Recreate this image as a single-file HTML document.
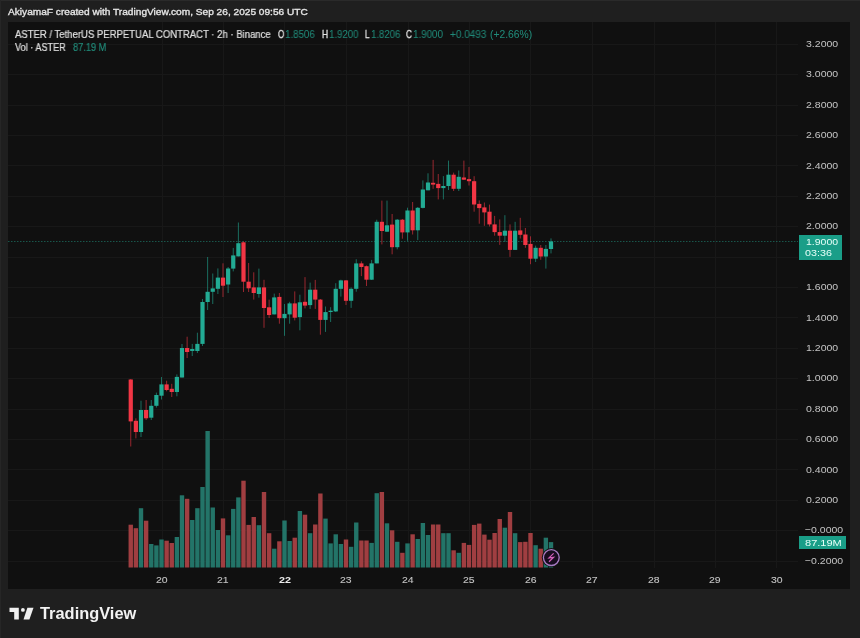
<!DOCTYPE html>
<html><head><meta charset="utf-8"><style>
html,body{margin:0;padding:0;}
body{width:860px;height:638px;background:#1f1f1f;position:relative;overflow:hidden;font-family:"Liberation Sans",sans-serif;}
.panel{position:absolute;left:8px;top:22px;width:842.2px;height:567.2px;background:#101010;}
svg{position:absolute;left:0;top:0;}
</style></head><body>
<div class="panel"></div>
<div style="position:absolute;left:0;top:0;width:860px;height:1px;background:#2a2a2a"></div>
<div style="position:absolute;left:0;top:0;width:1px;height:638px;background:#262626"></div>
<svg width="860" height="638" viewBox="0 0 860 638">
<line x1="8" y1="561.5" x2="798" y2="561.5" stroke="#181818" stroke-width="1"/>
<line x1="8" y1="530.5" x2="798" y2="530.5" stroke="#181818" stroke-width="1"/>
<line x1="8" y1="500.5" x2="798" y2="500.5" stroke="#181818" stroke-width="1"/>
<line x1="8" y1="469.5" x2="798" y2="469.5" stroke="#181818" stroke-width="1"/>
<line x1="8" y1="439.5" x2="798" y2="439.5" stroke="#181818" stroke-width="1"/>
<line x1="8" y1="409.5" x2="798" y2="409.5" stroke="#181818" stroke-width="1"/>
<line x1="8" y1="378.5" x2="798" y2="378.5" stroke="#181818" stroke-width="1"/>
<line x1="8" y1="348.5" x2="798" y2="348.5" stroke="#181818" stroke-width="1"/>
<line x1="8" y1="317.5" x2="798" y2="317.5" stroke="#181818" stroke-width="1"/>
<line x1="8" y1="287.5" x2="798" y2="287.5" stroke="#181818" stroke-width="1"/>
<line x1="8" y1="257.5" x2="798" y2="257.5" stroke="#181818" stroke-width="1"/>
<line x1="8" y1="226.5" x2="798" y2="226.5" stroke="#181818" stroke-width="1"/>
<line x1="8" y1="196.5" x2="798" y2="196.5" stroke="#181818" stroke-width="1"/>
<line x1="8" y1="165.5" x2="798" y2="165.5" stroke="#181818" stroke-width="1"/>
<line x1="8" y1="135.5" x2="798" y2="135.5" stroke="#181818" stroke-width="1"/>
<line x1="8" y1="105.5" x2="798" y2="105.5" stroke="#181818" stroke-width="1"/>
<line x1="8" y1="74.5" x2="798" y2="74.5" stroke="#181818" stroke-width="1"/>
<line x1="8" y1="44.5" x2="798" y2="44.5" stroke="#181818" stroke-width="1"/>
<line x1="162.5" y1="22" x2="162.5" y2="568" stroke="#181818" stroke-width="1"/>
<line x1="223.5" y1="22" x2="223.5" y2="568" stroke="#181818" stroke-width="1"/>
<line x1="284.5" y1="22" x2="284.5" y2="568" stroke="#181818" stroke-width="1"/>
<line x1="346.5" y1="22" x2="346.5" y2="568" stroke="#181818" stroke-width="1"/>
<line x1="408.5" y1="22" x2="408.5" y2="568" stroke="#181818" stroke-width="1"/>
<line x1="469.5" y1="22" x2="469.5" y2="568" stroke="#181818" stroke-width="1"/>
<line x1="530.5" y1="22" x2="530.5" y2="568" stroke="#181818" stroke-width="1"/>
<line x1="592.5" y1="22" x2="592.5" y2="568" stroke="#181818" stroke-width="1"/>
<line x1="654.5" y1="22" x2="654.5" y2="568" stroke="#181818" stroke-width="1"/>
<line x1="715.5" y1="22" x2="715.5" y2="568" stroke="#181818" stroke-width="1"/>
<line x1="776.5" y1="22" x2="776.5" y2="568" stroke="#181818" stroke-width="1"/>
<line x1="8" y1="241.5" x2="798" y2="241.5" stroke="#22ab94" stroke-width="1" stroke-dasharray="1.5 1.5" opacity="0.45"/>
<rect x="128.55" y="524.7" width="4.4" height="42.8" fill="#a03e41"/>
<rect x="133.68" y="528.2" width="4.4" height="39.3" fill="#a03e41"/>
<rect x="138.80" y="508.2" width="4.4" height="59.3" fill="#237468"/>
<rect x="143.93" y="520.7" width="4.4" height="46.8" fill="#a03e41"/>
<rect x="149.05" y="544.0" width="4.4" height="23.5" fill="#237468"/>
<rect x="154.18" y="545.4" width="4.4" height="22.1" fill="#237468"/>
<rect x="159.30" y="539.5" width="4.4" height="28.0" fill="#237468"/>
<rect x="164.43" y="540.7" width="4.4" height="26.8" fill="#a03e41"/>
<rect x="169.55" y="543.0" width="4.4" height="24.5" fill="#a03e41"/>
<rect x="174.68" y="537.0" width="4.4" height="30.5" fill="#237468"/>
<rect x="179.80" y="495.3" width="4.4" height="72.2" fill="#237468"/>
<rect x="184.93" y="498.8" width="4.4" height="68.7" fill="#a03e41"/>
<rect x="190.05" y="520.0" width="4.4" height="47.5" fill="#237468"/>
<rect x="195.18" y="508.2" width="4.4" height="59.3" fill="#237468"/>
<rect x="200.30" y="487.0" width="4.4" height="80.5" fill="#237468"/>
<rect x="205.43" y="431.0" width="4.4" height="136.5" fill="#237468"/>
<rect x="210.55" y="507.5" width="4.4" height="60.0" fill="#237468"/>
<rect x="215.68" y="530.0" width="4.4" height="37.5" fill="#237468"/>
<rect x="220.80" y="518.4" width="4.4" height="49.1" fill="#a03e41"/>
<rect x="225.93" y="535.3" width="4.4" height="32.2" fill="#237468"/>
<rect x="231.05" y="508.9" width="4.4" height="58.6" fill="#237468"/>
<rect x="236.18" y="497.4" width="4.4" height="70.1" fill="#237468"/>
<rect x="241.30" y="480.7" width="4.4" height="86.8" fill="#a03e41"/>
<rect x="246.43" y="524.9" width="4.4" height="42.6" fill="#a03e41"/>
<rect x="251.55" y="517.0" width="4.4" height="50.5" fill="#a03e41"/>
<rect x="256.68" y="525.2" width="4.4" height="42.3" fill="#237468"/>
<rect x="261.80" y="492.0" width="4.4" height="75.5" fill="#a03e41"/>
<rect x="266.93" y="533.2" width="4.4" height="34.3" fill="#a03e41"/>
<rect x="272.05" y="548.7" width="4.4" height="18.8" fill="#237468"/>
<rect x="277.18" y="541.3" width="4.4" height="26.2" fill="#a03e41"/>
<rect x="282.30" y="520.5" width="4.4" height="47.0" fill="#237468"/>
<rect x="287.43" y="541.0" width="4.4" height="26.5" fill="#237468"/>
<rect x="292.55" y="537.7" width="4.4" height="29.8" fill="#a03e41"/>
<rect x="297.68" y="511.0" width="4.4" height="56.5" fill="#237468"/>
<rect x="302.80" y="514.7" width="4.4" height="52.8" fill="#a03e41"/>
<rect x="307.93" y="533.2" width="4.4" height="34.3" fill="#237468"/>
<rect x="313.05" y="524.5" width="4.4" height="43.0" fill="#a03e41"/>
<rect x="318.18" y="493.5" width="4.4" height="74.0" fill="#a03e41"/>
<rect x="323.30" y="518.6" width="4.4" height="48.9" fill="#237468"/>
<rect x="328.43" y="543.4" width="4.4" height="24.1" fill="#237468"/>
<rect x="333.55" y="534.3" width="4.4" height="33.2" fill="#237468"/>
<rect x="338.68" y="544.0" width="4.4" height="23.5" fill="#237468"/>
<rect x="343.80" y="539.5" width="4.4" height="28.0" fill="#a03e41"/>
<rect x="348.93" y="546.8" width="4.4" height="20.7" fill="#237468"/>
<rect x="354.05" y="522.5" width="4.4" height="45.0" fill="#237468"/>
<rect x="359.18" y="540.5" width="4.4" height="27.0" fill="#a03e41"/>
<rect x="364.30" y="540.5" width="4.4" height="27.0" fill="#a03e41"/>
<rect x="369.43" y="542.9" width="4.4" height="24.6" fill="#237468"/>
<rect x="374.55" y="493.2" width="4.4" height="74.3" fill="#237468"/>
<rect x="379.68" y="492.0" width="4.4" height="75.5" fill="#a03e41"/>
<rect x="384.80" y="523.3" width="4.4" height="44.2" fill="#237468"/>
<rect x="389.93" y="530.3" width="4.4" height="37.2" fill="#a03e41"/>
<rect x="395.05" y="541.8" width="4.4" height="25.7" fill="#237468"/>
<rect x="400.18" y="552.8" width="4.4" height="14.7" fill="#a03e41"/>
<rect x="405.30" y="543.4" width="4.4" height="24.1" fill="#237468"/>
<rect x="410.43" y="534.3" width="4.4" height="33.2" fill="#a03e41"/>
<rect x="415.55" y="539.0" width="4.4" height="28.5" fill="#237468"/>
<rect x="420.68" y="523.0" width="4.4" height="44.5" fill="#237468"/>
<rect x="425.80" y="535.0" width="4.4" height="32.5" fill="#237468"/>
<rect x="430.93" y="524.5" width="4.4" height="43.0" fill="#a03e41"/>
<rect x="436.05" y="524.5" width="4.4" height="43.0" fill="#a03e41"/>
<rect x="441.18" y="533.2" width="4.4" height="34.3" fill="#237468"/>
<rect x="446.30" y="533.2" width="4.4" height="34.3" fill="#237468"/>
<rect x="451.43" y="550.3" width="4.4" height="17.2" fill="#a03e41"/>
<rect x="456.55" y="552.8" width="4.4" height="14.7" fill="#237468"/>
<rect x="461.68" y="542.9" width="4.4" height="24.6" fill="#a03e41"/>
<rect x="466.80" y="544.9" width="4.4" height="22.6" fill="#a03e41"/>
<rect x="471.93" y="524.9" width="4.4" height="42.6" fill="#a03e41"/>
<rect x="477.05" y="523.6" width="4.4" height="43.9" fill="#a03e41"/>
<rect x="482.18" y="534.6" width="4.4" height="32.9" fill="#a03e41"/>
<rect x="487.30" y="539.7" width="4.4" height="27.8" fill="#a03e41"/>
<rect x="492.43" y="533.0" width="4.4" height="34.5" fill="#a03e41"/>
<rect x="497.55" y="519.0" width="4.4" height="48.5" fill="#a03e41"/>
<rect x="502.68" y="527.7" width="4.4" height="39.8" fill="#237468"/>
<rect x="507.80" y="512.0" width="4.4" height="55.5" fill="#a03e41"/>
<rect x="512.92" y="533.2" width="4.4" height="34.3" fill="#237468"/>
<rect x="518.05" y="542.1" width="4.4" height="25.4" fill="#a03e41"/>
<rect x="523.17" y="541.8" width="4.4" height="25.7" fill="#a03e41"/>
<rect x="528.30" y="533.0" width="4.4" height="34.5" fill="#a03e41"/>
<rect x="533.42" y="545.2" width="4.4" height="22.3" fill="#237468"/>
<rect x="538.55" y="548.7" width="4.4" height="18.8" fill="#a03e41"/>
<rect x="543.67" y="537.7" width="4.4" height="29.8" fill="#237468"/>
<rect x="548.80" y="542.1" width="4.4" height="25.4" fill="#237468"/>
<rect x="130.25" y="379.0" width="1" height="67.5" fill="#f23645" opacity="0.6"/>
<rect x="128.65" y="379.5" width="4.2" height="41.9" fill="#f23645"/>
<rect x="135.38" y="418.3" width="1" height="20.1" fill="#f23645" opacity="0.6"/>
<rect x="133.78" y="420.8" width="4.2" height="11.2" fill="#f23645"/>
<rect x="140.50" y="400.7" width="1" height="36.3" fill="#22ab94" opacity="0.6"/>
<rect x="138.90" y="410.0" width="4.2" height="22.0" fill="#22ab94"/>
<rect x="145.62" y="400.0" width="1" height="20.0" fill="#f23645" opacity="0.6"/>
<rect x="144.03" y="410.0" width="4.2" height="8.3" fill="#f23645"/>
<rect x="150.75" y="400.0" width="1" height="20.0" fill="#22ab94" opacity="0.6"/>
<rect x="149.15" y="405.8" width="4.2" height="11.9" fill="#22ab94"/>
<rect x="155.88" y="392.6" width="1" height="15.0" fill="#22ab94" opacity="0.6"/>
<rect x="154.28" y="395.0" width="4.2" height="10.8" fill="#22ab94"/>
<rect x="161.00" y="377.0" width="1" height="22.5" fill="#22ab94" opacity="0.6"/>
<rect x="159.40" y="384.4" width="4.2" height="11.3" fill="#22ab94"/>
<rect x="166.12" y="380.7" width="1" height="10.6" fill="#f23645" opacity="0.6"/>
<rect x="164.53" y="384.4" width="4.2" height="5.6" fill="#f23645"/>
<rect x="171.25" y="383.8" width="1" height="13.2" fill="#f23645" opacity="0.6"/>
<rect x="169.65" y="388.8" width="4.2" height="3.2" fill="#f23645"/>
<rect x="176.38" y="374.4" width="1" height="21.9" fill="#22ab94" opacity="0.6"/>
<rect x="174.78" y="376.9" width="4.2" height="15.1" fill="#22ab94"/>
<rect x="181.50" y="344.0" width="1" height="33.5" fill="#22ab94" opacity="0.6"/>
<rect x="179.90" y="348.0" width="4.2" height="29.5" fill="#22ab94"/>
<rect x="186.62" y="336.7" width="1" height="21.3" fill="#f23645" opacity="0.6"/>
<rect x="185.03" y="348.0" width="4.2" height="4.0" fill="#f23645"/>
<rect x="191.75" y="343.9" width="1" height="12.1" fill="#22ab94" opacity="0.6"/>
<rect x="190.15" y="349.0" width="4.2" height="2.0" fill="#22ab94"/>
<rect x="196.88" y="332.7" width="1" height="20.3" fill="#22ab94" opacity="0.6"/>
<rect x="195.28" y="343.9" width="4.2" height="7.1" fill="#22ab94"/>
<rect x="202.00" y="299.0" width="1" height="47.0" fill="#22ab94" opacity="0.6"/>
<rect x="200.40" y="302.0" width="4.2" height="41.9" fill="#22ab94"/>
<rect x="207.12" y="257.0" width="1" height="53.0" fill="#22ab94" opacity="0.6"/>
<rect x="205.53" y="291.8" width="4.2" height="10.2" fill="#22ab94"/>
<rect x="212.25" y="273.5" width="1" height="30.5" fill="#22ab94" opacity="0.6"/>
<rect x="210.65" y="288.4" width="4.2" height="3.4" fill="#22ab94"/>
<rect x="217.38" y="268.4" width="1" height="25.6" fill="#22ab94" opacity="0.6"/>
<rect x="215.78" y="277.6" width="4.2" height="11.2" fill="#22ab94"/>
<rect x="222.50" y="263.3" width="1" height="33.7" fill="#f23645" opacity="0.6"/>
<rect x="220.90" y="277.6" width="4.2" height="8.1" fill="#f23645"/>
<rect x="227.62" y="267.0" width="1" height="26.0" fill="#22ab94" opacity="0.6"/>
<rect x="226.03" y="268.5" width="4.2" height="16.0" fill="#22ab94"/>
<rect x="232.75" y="247.9" width="1" height="23.5" fill="#22ab94" opacity="0.6"/>
<rect x="231.15" y="255.4" width="4.2" height="13.2" fill="#22ab94"/>
<rect x="237.88" y="222.5" width="1" height="33.9" fill="#22ab94" opacity="0.6"/>
<rect x="236.28" y="243.2" width="4.2" height="13.2" fill="#22ab94"/>
<rect x="243.00" y="241.3" width="1" height="50.7" fill="#f23645" opacity="0.6"/>
<rect x="241.40" y="242.3" width="4.2" height="39.4" fill="#f23645"/>
<rect x="248.12" y="263.0" width="1" height="29.0" fill="#f23645" opacity="0.6"/>
<rect x="246.53" y="281.7" width="4.2" height="6.6" fill="#f23645"/>
<rect x="253.25" y="272.3" width="1" height="27.3" fill="#f23645" opacity="0.6"/>
<rect x="251.65" y="287.4" width="4.2" height="5.6" fill="#f23645"/>
<rect x="258.38" y="268.6" width="1" height="29.1" fill="#22ab94" opacity="0.6"/>
<rect x="256.77" y="287.4" width="4.2" height="6.6" fill="#22ab94"/>
<rect x="263.50" y="279.8" width="1" height="48.0" fill="#f23645" opacity="0.6"/>
<rect x="261.90" y="287.4" width="4.2" height="20.6" fill="#f23645"/>
<rect x="268.62" y="299.6" width="1" height="18.4" fill="#f23645" opacity="0.6"/>
<rect x="267.02" y="307.3" width="4.2" height="7.7" fill="#f23645"/>
<rect x="273.75" y="293.6" width="1" height="20.8" fill="#22ab94" opacity="0.6"/>
<rect x="272.15" y="297.4" width="4.2" height="17.0" fill="#22ab94"/>
<rect x="278.88" y="293.0" width="1" height="30.7" fill="#f23645" opacity="0.6"/>
<rect x="277.27" y="296.9" width="4.2" height="21.3" fill="#f23645"/>
<rect x="284.00" y="304.0" width="1" height="31.8" fill="#22ab94" opacity="0.6"/>
<rect x="282.40" y="313.9" width="4.2" height="4.3" fill="#22ab94"/>
<rect x="289.12" y="301.8" width="1" height="21.9" fill="#22ab94" opacity="0.6"/>
<rect x="287.52" y="303.4" width="4.2" height="11.0" fill="#22ab94"/>
<rect x="294.25" y="291.4" width="1" height="29.0" fill="#f23645" opacity="0.6"/>
<rect x="292.65" y="303.4" width="4.2" height="14.3" fill="#f23645"/>
<rect x="299.38" y="294.7" width="1" height="35.6" fill="#22ab94" opacity="0.6"/>
<rect x="297.77" y="302.3" width="4.2" height="14.8" fill="#22ab94"/>
<rect x="304.50" y="277.1" width="1" height="31.3" fill="#f23645" opacity="0.6"/>
<rect x="302.90" y="301.8" width="4.2" height="3.8" fill="#f23645"/>
<rect x="309.62" y="282.6" width="1" height="26.3" fill="#22ab94" opacity="0.6"/>
<rect x="308.02" y="289.7" width="4.2" height="15.4" fill="#22ab94"/>
<rect x="314.75" y="279.9" width="1" height="29.0" fill="#f23645" opacity="0.6"/>
<rect x="313.15" y="289.7" width="4.2" height="9.9" fill="#f23645"/>
<rect x="319.88" y="299.0" width="1" height="35.7" fill="#f23645" opacity="0.6"/>
<rect x="318.27" y="299.6" width="4.2" height="20.3" fill="#f23645"/>
<rect x="325.00" y="306.5" width="1" height="25.4" fill="#22ab94" opacity="0.6"/>
<rect x="323.40" y="312.1" width="4.2" height="7.8" fill="#22ab94"/>
<rect x="330.12" y="307.2" width="1" height="14.8" fill="#22ab94" opacity="0.6"/>
<rect x="328.52" y="310.7" width="4.2" height="1.3" fill="#22ab94"/>
<rect x="335.25" y="283.2" width="1" height="28.8" fill="#22ab94" opacity="0.6"/>
<rect x="333.65" y="288.8" width="4.2" height="22.6" fill="#22ab94"/>
<rect x="340.38" y="279.7" width="1" height="16.9" fill="#22ab94" opacity="0.6"/>
<rect x="338.77" y="280.4" width="4.2" height="8.4" fill="#22ab94"/>
<rect x="345.50" y="280.0" width="1" height="25.0" fill="#f23645" opacity="0.6"/>
<rect x="343.90" y="280.4" width="4.2" height="20.4" fill="#f23645"/>
<rect x="350.62" y="287.4" width="1" height="20.5" fill="#22ab94" opacity="0.6"/>
<rect x="349.02" y="288.8" width="4.2" height="12.0" fill="#22ab94"/>
<rect x="355.75" y="259.2" width="1" height="32.5" fill="#22ab94" opacity="0.6"/>
<rect x="354.15" y="263.4" width="4.2" height="25.4" fill="#22ab94"/>
<rect x="360.88" y="261.3" width="1" height="14.8" fill="#f23645" opacity="0.6"/>
<rect x="359.27" y="263.4" width="4.2" height="3.6" fill="#f23645"/>
<rect x="366.00" y="265.5" width="1" height="20.5" fill="#f23645" opacity="0.6"/>
<rect x="364.40" y="266.2" width="4.2" height="13.5" fill="#f23645"/>
<rect x="371.12" y="259.9" width="1" height="20.1" fill="#22ab94" opacity="0.6"/>
<rect x="369.52" y="263.4" width="4.2" height="16.3" fill="#22ab94"/>
<rect x="376.25" y="219.7" width="1" height="43.7" fill="#22ab94" opacity="0.6"/>
<rect x="374.65" y="221.8" width="4.2" height="41.6" fill="#22ab94"/>
<rect x="381.38" y="200.6" width="1" height="43.8" fill="#f23645" opacity="0.6"/>
<rect x="379.77" y="221.8" width="4.2" height="9.2" fill="#f23645"/>
<rect x="386.50" y="200.6" width="1" height="31.4" fill="#22ab94" opacity="0.6"/>
<rect x="384.90" y="225.3" width="4.2" height="6.4" fill="#22ab94"/>
<rect x="391.62" y="214.0" width="1" height="40.3" fill="#f23645" opacity="0.6"/>
<rect x="390.02" y="224.6" width="4.2" height="22.6" fill="#f23645"/>
<rect x="396.75" y="219.0" width="1" height="30.3" fill="#22ab94" opacity="0.6"/>
<rect x="395.15" y="219.7" width="4.2" height="27.5" fill="#22ab94"/>
<rect x="401.88" y="219.0" width="1" height="19.7" fill="#f23645" opacity="0.6"/>
<rect x="400.27" y="219.7" width="4.2" height="12.7" fill="#f23645"/>
<rect x="407.00" y="207.7" width="1" height="33.1" fill="#22ab94" opacity="0.6"/>
<rect x="405.40" y="210.5" width="4.2" height="21.9" fill="#22ab94"/>
<rect x="412.12" y="202.0" width="1" height="32.5" fill="#f23645" opacity="0.6"/>
<rect x="410.52" y="210.5" width="4.2" height="19.8" fill="#f23645"/>
<rect x="417.25" y="207.0" width="1" height="33.1" fill="#22ab94" opacity="0.6"/>
<rect x="415.65" y="207.8" width="4.2" height="22.5" fill="#22ab94"/>
<rect x="422.38" y="180.4" width="1" height="28.0" fill="#22ab94" opacity="0.6"/>
<rect x="420.77" y="189.5" width="4.2" height="18.4" fill="#22ab94"/>
<rect x="427.50" y="173.3" width="1" height="17.0" fill="#22ab94" opacity="0.6"/>
<rect x="425.90" y="182.5" width="4.2" height="7.8" fill="#22ab94"/>
<rect x="432.62" y="159.9" width="1" height="28.9" fill="#f23645" opacity="0.6"/>
<rect x="431.02" y="182.8" width="4.2" height="1.8" fill="#f23645"/>
<rect x="437.75" y="174.0" width="1" height="25.4" fill="#f23645" opacity="0.6"/>
<rect x="436.15" y="183.9" width="4.2" height="4.2" fill="#f23645"/>
<rect x="442.88" y="176.1" width="1" height="23.3" fill="#22ab94" opacity="0.6"/>
<rect x="441.27" y="186.0" width="4.2" height="2.1" fill="#22ab94"/>
<rect x="448.00" y="160.6" width="1" height="29.4" fill="#22ab94" opacity="0.6"/>
<rect x="446.40" y="174.7" width="4.2" height="11.3" fill="#22ab94"/>
<rect x="453.12" y="172.6" width="1" height="18.4" fill="#f23645" opacity="0.6"/>
<rect x="451.52" y="174.7" width="4.2" height="14.1" fill="#f23645"/>
<rect x="458.25" y="170.5" width="1" height="20.5" fill="#22ab94" opacity="0.6"/>
<rect x="456.65" y="176.8" width="4.2" height="12.0" fill="#22ab94"/>
<rect x="463.38" y="160.6" width="1" height="19.4" fill="#f23645" opacity="0.6"/>
<rect x="461.77" y="177.5" width="4.2" height="2.2" fill="#f23645"/>
<rect x="468.50" y="167.0" width="1" height="18.5" fill="#f23645" opacity="0.6"/>
<rect x="466.90" y="179.1" width="4.2" height="2.1" fill="#f23645"/>
<rect x="473.62" y="176.2" width="1" height="35.5" fill="#f23645" opacity="0.6"/>
<rect x="472.02" y="181.2" width="4.2" height="23.3" fill="#f23645"/>
<rect x="478.75" y="200.4" width="1" height="23.3" fill="#f23645" opacity="0.6"/>
<rect x="477.15" y="203.9" width="4.2" height="4.2" fill="#f23645"/>
<rect x="483.88" y="202.5" width="1" height="23.3" fill="#f23645" opacity="0.6"/>
<rect x="482.27" y="207.4" width="4.2" height="5.0" fill="#f23645"/>
<rect x="489.00" y="204.6" width="1" height="21.9" fill="#f23645" opacity="0.6"/>
<rect x="487.40" y="211.7" width="4.2" height="12.7" fill="#f23645"/>
<rect x="494.12" y="215.9" width="1" height="19.8" fill="#f23645" opacity="0.6"/>
<rect x="492.52" y="224.4" width="4.2" height="7.7" fill="#f23645"/>
<rect x="499.25" y="219.4" width="1" height="25.5" fill="#f23645" opacity="0.6"/>
<rect x="497.65" y="232.1" width="4.2" height="3.6" fill="#f23645"/>
<rect x="504.38" y="215.2" width="1" height="26.8" fill="#22ab94" opacity="0.6"/>
<rect x="502.77" y="230.7" width="4.2" height="5.0" fill="#22ab94"/>
<rect x="509.50" y="224.4" width="1" height="32.5" fill="#f23645" opacity="0.6"/>
<rect x="507.90" y="230.7" width="4.2" height="19.2" fill="#f23645"/>
<rect x="514.62" y="221.8" width="1" height="28.2" fill="#22ab94" opacity="0.6"/>
<rect x="513.02" y="230.7" width="4.2" height="19.2" fill="#22ab94"/>
<rect x="519.75" y="217.8" width="1" height="20.7" fill="#f23645" opacity="0.6"/>
<rect x="518.15" y="230.4" width="4.2" height="4.4" fill="#f23645"/>
<rect x="524.88" y="228.0" width="1" height="19.8" fill="#f23645" opacity="0.6"/>
<rect x="523.27" y="234.5" width="4.2" height="10.5" fill="#f23645"/>
<rect x="530.00" y="236.3" width="1" height="27.9" fill="#f23645" opacity="0.6"/>
<rect x="528.40" y="243.9" width="4.2" height="14.8" fill="#f23645"/>
<rect x="535.12" y="245.6" width="1" height="16.4" fill="#22ab94" opacity="0.6"/>
<rect x="533.52" y="247.8" width="4.2" height="10.9" fill="#22ab94"/>
<rect x="540.25" y="245.0" width="1" height="14.8" fill="#f23645" opacity="0.6"/>
<rect x="538.65" y="247.8" width="4.2" height="8.7" fill="#f23645"/>
<rect x="545.38" y="245.0" width="1" height="23.6" fill="#22ab94" opacity="0.6"/>
<rect x="543.77" y="248.9" width="4.2" height="7.6" fill="#22ab94"/>
<rect x="550.50" y="238.4" width="1" height="15.0" fill="#22ab94" opacity="0.6"/>
<rect x="548.90" y="241.4" width="4.2" height="7.6" fill="#22ab94"/>
<circle cx="551.3" cy="557.6" r="9.5" fill="#121212"/>
<circle cx="551.3" cy="557.6" r="7.9" fill="#170c1f" stroke="#a77cc4" stroke-width="1.3"/>
<path d="M553.6 553.4 L549 557.9 L553.6 557.3 L549 561.8" fill="none" stroke="#d35fbb" stroke-width="1.2"/>
</svg>
<div style="position:absolute;left:8.00px;top:6.31px;font-size:9.6px;line-height:11.52px;color:#e4e4e4;font-weight:normal;white-space:nowrap;-webkit-text-stroke:0.35px #e4e4e4;will-change:transform;transform-origin:0 0;transform:scaleX(1.0555);">AkiyamaF created with TradingView.com, Sep 26, 2025 09:56 UTC</div>
<div style="position:absolute;left:15.20px;top:28.95px;font-size:10.2px;line-height:12.24px;color:#e0e0e0;font-weight:normal;white-space:nowrap;-webkit-text-stroke:0.2px #e0e0e0;will-change:transform;transform-origin:0 0;transform:scaleX(0.9357);">ASTER / TetherUS PERPETUAL CONTRACT · 2h · Binance</div>
<div style="position:absolute;left:277.80px;top:28.95px;font-size:10.2px;line-height:12.24px;color:#e0e0e0;font-weight:normal;white-space:nowrap;-webkit-text-stroke:0.35px #e0e0e0;will-change:transform;transform-origin:0 0;transform:scaleX(0.7813);">O</div>
<div style="position:absolute;left:285.00px;top:28.95px;font-size:10.2px;line-height:12.24px;color:#218a79;font-weight:normal;white-space:nowrap;-webkit-text-stroke:0.05px #218a79;will-change:transform;transform-origin:0 0;transform:scaleX(0.9551);">1.8506</div>
<div style="position:absolute;left:321.60px;top:28.95px;font-size:10.2px;line-height:12.24px;color:#e0e0e0;font-weight:normal;white-space:nowrap;-webkit-text-stroke:0.35px #e0e0e0;will-change:transform;transform-origin:0 0;transform:scaleX(0.8283);">H</div>
<div style="position:absolute;left:328.50px;top:28.95px;font-size:10.2px;line-height:12.24px;color:#218a79;font-weight:normal;white-space:nowrap;-webkit-text-stroke:0.05px #218a79;will-change:transform;transform-origin:0 0;transform:scaleX(0.9455);">1.9200</div>
<div style="position:absolute;left:365.20px;top:28.95px;font-size:10.2px;line-height:12.24px;color:#e0e0e0;font-weight:normal;white-space:nowrap;-webkit-text-stroke:0.35px #e0e0e0;will-change:transform;transform-origin:0 0;transform:scaleX(0.7758);">L</div>
<div style="position:absolute;left:370.60px;top:28.95px;font-size:10.2px;line-height:12.24px;color:#218a79;font-weight:normal;white-space:nowrap;-webkit-text-stroke:0.05px #218a79;will-change:transform;transform-origin:0 0;transform:scaleX(0.9423);">1.8206</div>
<div style="position:absolute;left:406.40px;top:28.95px;font-size:10.2px;line-height:12.24px;color:#e0e0e0;font-weight:normal;white-space:nowrap;-webkit-text-stroke:0.35px #e0e0e0;will-change:transform;transform-origin:0 0;transform:scaleX(0.7876);">C</div>
<div style="position:absolute;left:413.20px;top:28.95px;font-size:10.2px;line-height:12.24px;color:#218a79;font-weight:normal;white-space:nowrap;-webkit-text-stroke:0.05px #218a79;will-change:transform;transform-origin:0 0;transform:scaleX(0.9615);">1.9000</div>
<div style="position:absolute;left:449.80px;top:28.95px;font-size:10.2px;line-height:12.24px;color:#218a79;font-weight:normal;white-space:nowrap;-webkit-text-stroke:0.05px #218a79;will-change:transform;transform-origin:0 0;transform:scaleX(0.9796);">+0.0493</div>
<div style="position:absolute;left:489.80px;top:28.95px;font-size:10.2px;line-height:12.24px;color:#218a79;font-weight:normal;white-space:nowrap;-webkit-text-stroke:0.05px #218a79;will-change:transform;transform-origin:0 0;transform:scaleX(1.0128);">(+2.66%)</div>
<div style="position:absolute;left:15.20px;top:42.35px;font-size:10.2px;line-height:12.24px;color:#e0e0e0;font-weight:normal;white-space:nowrap;-webkit-text-stroke:0.2px #e0e0e0;will-change:transform;transform-origin:0 0;transform:scaleX(0.8961);">Vol · ASTER</div>
<div style="position:absolute;left:72.60px;top:42.35px;font-size:10.2px;line-height:12.24px;color:#218a79;font-weight:normal;white-space:nowrap;-webkit-text-stroke:0.2px #218a79;will-change:transform;transform-origin:0 0;transform:scaleX(0.9063);">87.19 M</div>
<div style="position:absolute;left:805.30px;top:554.73px;font-size:9.9px;line-height:11.88px;color:#c4c4c4;font-weight:normal;white-space:nowrap;-webkit-text-stroke:0.0px #c4c4c4;will-change:transform;transform-origin:0 0;transform:scaleX(1.0620);">−0.2000</div>
<div style="position:absolute;left:805.30px;top:524.33px;font-size:9.9px;line-height:11.88px;color:#c4c4c4;font-weight:normal;white-space:nowrap;-webkit-text-stroke:0.0px #c4c4c4;will-change:transform;transform-origin:0 0;transform:scaleX(1.0620);">−0.0000</div>
<div style="position:absolute;left:805.50px;top:494.02px;font-size:9.9px;line-height:11.88px;color:#c4c4c4;font-weight:normal;white-space:nowrap;-webkit-text-stroke:0.0px #c4c4c4;will-change:transform;transform-origin:0 0;transform:scaleX(1.0666);">0.2000</div>
<div style="position:absolute;left:805.50px;top:463.61px;font-size:9.9px;line-height:11.88px;color:#c4c4c4;font-weight:normal;white-space:nowrap;-webkit-text-stroke:0.0px #c4c4c4;will-change:transform;transform-origin:0 0;transform:scaleX(1.0666);">0.4000</div>
<div style="position:absolute;left:805.50px;top:433.21px;font-size:9.9px;line-height:11.88px;color:#c4c4c4;font-weight:normal;white-space:nowrap;-webkit-text-stroke:0.0px #c4c4c4;will-change:transform;transform-origin:0 0;transform:scaleX(1.0666);">0.6000</div>
<div style="position:absolute;left:805.50px;top:402.80px;font-size:9.9px;line-height:11.88px;color:#c4c4c4;font-weight:normal;white-space:nowrap;-webkit-text-stroke:0.0px #c4c4c4;will-change:transform;transform-origin:0 0;transform:scaleX(1.0666);">0.8000</div>
<div style="position:absolute;left:805.50px;top:372.40px;font-size:9.9px;line-height:11.88px;color:#c4c4c4;font-weight:normal;white-space:nowrap;-webkit-text-stroke:0.0px #c4c4c4;will-change:transform;transform-origin:0 0;transform:scaleX(1.0666);">1.0000</div>
<div style="position:absolute;left:805.50px;top:341.99px;font-size:9.9px;line-height:11.88px;color:#c4c4c4;font-weight:normal;white-space:nowrap;-webkit-text-stroke:0.0px #c4c4c4;will-change:transform;transform-origin:0 0;transform:scaleX(1.0666);">1.2000</div>
<div style="position:absolute;left:805.50px;top:311.58px;font-size:9.9px;line-height:11.88px;color:#c4c4c4;font-weight:normal;white-space:nowrap;-webkit-text-stroke:0.0px #c4c4c4;will-change:transform;transform-origin:0 0;transform:scaleX(1.0666);">1.4000</div>
<div style="position:absolute;left:805.50px;top:281.18px;font-size:9.9px;line-height:11.88px;color:#c4c4c4;font-weight:normal;white-space:nowrap;-webkit-text-stroke:0.0px #c4c4c4;will-change:transform;transform-origin:0 0;transform:scaleX(1.0666);">1.6000</div>
<div style="position:absolute;left:805.50px;top:220.37px;font-size:9.9px;line-height:11.88px;color:#c4c4c4;font-weight:normal;white-space:nowrap;-webkit-text-stroke:0.0px #c4c4c4;will-change:transform;transform-origin:0 0;transform:scaleX(1.0666);">2.0000</div>
<div style="position:absolute;left:805.50px;top:189.96px;font-size:9.9px;line-height:11.88px;color:#c4c4c4;font-weight:normal;white-space:nowrap;-webkit-text-stroke:0.0px #c4c4c4;will-change:transform;transform-origin:0 0;transform:scaleX(1.0666);">2.2000</div>
<div style="position:absolute;left:805.50px;top:159.55px;font-size:9.9px;line-height:11.88px;color:#c4c4c4;font-weight:normal;white-space:nowrap;-webkit-text-stroke:0.0px #c4c4c4;will-change:transform;transform-origin:0 0;transform:scaleX(1.0666);">2.4000</div>
<div style="position:absolute;left:805.50px;top:129.15px;font-size:9.9px;line-height:11.88px;color:#c4c4c4;font-weight:normal;white-space:nowrap;-webkit-text-stroke:0.0px #c4c4c4;will-change:transform;transform-origin:0 0;transform:scaleX(1.0666);">2.6000</div>
<div style="position:absolute;left:805.50px;top:98.74px;font-size:9.9px;line-height:11.88px;color:#c4c4c4;font-weight:normal;white-space:nowrap;-webkit-text-stroke:0.0px #c4c4c4;will-change:transform;transform-origin:0 0;transform:scaleX(1.0666);">2.8000</div>
<div style="position:absolute;left:805.50px;top:68.34px;font-size:9.9px;line-height:11.88px;color:#c4c4c4;font-weight:normal;white-space:nowrap;-webkit-text-stroke:0.0px #c4c4c4;will-change:transform;transform-origin:0 0;transform:scaleX(1.0666);">3.0000</div>
<div style="position:absolute;left:805.50px;top:37.93px;font-size:9.9px;line-height:11.88px;color:#c4c4c4;font-weight:normal;white-space:nowrap;-webkit-text-stroke:0.0px #c4c4c4;will-change:transform;transform-origin:0 0;transform:scaleX(1.0666);">3.2000</div>
<div style="position:absolute;left:155.70px;top:574.59px;font-size:9.2px;line-height:11.04px;color:#c4c4c4;font-weight:normal;white-space:nowrap;-webkit-text-stroke:0.1px #c4c4c4;will-change:transform;transform-origin:0 0;transform:scaleX(1.1339);">20</div>
<div style="position:absolute;left:217.20px;top:574.59px;font-size:9.2px;line-height:11.04px;color:#c4c4c4;font-weight:normal;white-space:nowrap;-webkit-text-stroke:0.1px #c4c4c4;will-change:transform;transform-origin:0 0;transform:scaleX(1.1339);">21</div>
<div style="position:absolute;left:278.50px;top:574.59px;font-size:9.2px;line-height:11.04px;color:#ececec;font-weight:bold;white-space:nowrap;-webkit-text-stroke:0.0px #ececec;will-change:transform;transform-origin:0 0;transform:scaleX(1.1730);">22</div>
<div style="position:absolute;left:340.20px;top:574.59px;font-size:9.2px;line-height:11.04px;color:#c4c4c4;font-weight:normal;white-space:nowrap;-webkit-text-stroke:0.1px #c4c4c4;will-change:transform;transform-origin:0 0;transform:scaleX(1.1339);">23</div>
<div style="position:absolute;left:401.70px;top:574.59px;font-size:9.2px;line-height:11.04px;color:#c4c4c4;font-weight:normal;white-space:nowrap;-webkit-text-stroke:0.1px #c4c4c4;will-change:transform;transform-origin:0 0;transform:scaleX(1.1339);">24</div>
<div style="position:absolute;left:463.20px;top:574.59px;font-size:9.2px;line-height:11.04px;color:#c4c4c4;font-weight:normal;white-space:nowrap;-webkit-text-stroke:0.1px #c4c4c4;will-change:transform;transform-origin:0 0;transform:scaleX(1.1339);">25</div>
<div style="position:absolute;left:524.70px;top:574.59px;font-size:9.2px;line-height:11.04px;color:#c4c4c4;font-weight:normal;white-space:nowrap;-webkit-text-stroke:0.1px #c4c4c4;will-change:transform;transform-origin:0 0;transform:scaleX(1.1339);">26</div>
<div style="position:absolute;left:586.20px;top:574.59px;font-size:9.2px;line-height:11.04px;color:#c4c4c4;font-weight:normal;white-space:nowrap;-webkit-text-stroke:0.1px #c4c4c4;will-change:transform;transform-origin:0 0;transform:scaleX(1.1339);">27</div>
<div style="position:absolute;left:647.70px;top:574.59px;font-size:9.2px;line-height:11.04px;color:#c4c4c4;font-weight:normal;white-space:nowrap;-webkit-text-stroke:0.1px #c4c4c4;will-change:transform;transform-origin:0 0;transform:scaleX(1.1339);">28</div>
<div style="position:absolute;left:709.20px;top:574.59px;font-size:9.2px;line-height:11.04px;color:#c4c4c4;font-weight:normal;white-space:nowrap;-webkit-text-stroke:0.1px #c4c4c4;will-change:transform;transform-origin:0 0;transform:scaleX(1.1339);">29</div>
<div style="position:absolute;left:770.70px;top:574.59px;font-size:9.2px;line-height:11.04px;color:#c4c4c4;font-weight:normal;white-space:nowrap;-webkit-text-stroke:0.1px #c4c4c4;will-change:transform;transform-origin:0 0;transform:scaleX(1.1339);">30</div>
<div style="position:absolute;left:798.7px;top:234.6px;width:43.6px;height:25.2px;background:#1a9e88"></div>
<div style="position:absolute;left:805.70px;top:235.71px;font-size:9.6px;line-height:11.52px;color:#e6fff8;font-weight:normal;white-space:nowrap;-webkit-text-stroke:0.0px #e6fff8;will-change:transform;transform-origin:0 0;transform:scaleX(1.0931);">1.9000</div>
<div style="position:absolute;left:805.00px;top:246.51px;font-size:9.6px;line-height:11.52px;color:#e6fff8;font-weight:normal;white-space:nowrap;-webkit-text-stroke:0.0px #e6fff8;will-change:transform;transform-origin:0 0;transform:scaleX(1.1199);">03:36</div>
<div style="position:absolute;left:798.6px;top:535.7px;width:47.2px;height:13.3px;background:#1a9e88"></div>
<div style="position:absolute;left:804.50px;top:537.31px;font-size:9.6px;line-height:11.52px;color:#e6fff8;font-weight:normal;white-space:nowrap;-webkit-text-stroke:0.0px #e6fff8;will-change:transform;transform-origin:0 0;transform:scaleX(1.1494);">87.19M</div>
<div style="position:absolute;left:39.60px;top:604.74px;font-size:15.7px;line-height:18.84px;color:#f2f2f2;font-weight:bold;white-space:nowrap;-webkit-text-stroke:0.0px #f2f2f2;will-change:transform;transform-origin:0 0;transform:scaleX(1.0453);">TradingView</div>
<svg width="40" height="20" style="left:8px;top:604px" viewBox="8 604 40 20">
<path d="M9.5 607.7 H18.8 V619.5 H14.2 V612 H9.5 Z" fill="#f0f0f0"/>
<circle cx="22.9" cy="609.9" r="1.9" fill="#f0f0f0"/>
<path d="M27.4 607.7 H33.5 L29.4 619.5 H23.5 Z" fill="#f0f0f0"/>
</svg>
</body></html>
